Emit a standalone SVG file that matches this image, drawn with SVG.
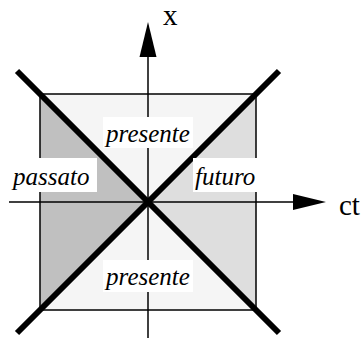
<svg xmlns="http://www.w3.org/2000/svg" width="363" height="338" viewBox="0 0 363 338">
  <style>
    .ax { stroke: #000; stroke-width: 1.5; fill: none; }
    .cone { stroke: #000; stroke-width: 6; stroke-linecap: butt; fill: none; }
    .bg { fill: #fff; }
  </style>
  <rect width="363" height="338" fill="#fff"/>
  <g id="regions">
    <polygon points="40,94 256,94 148,202" fill="#f5f5f5"/>
    <polygon points="40,310 256,310 148,202" fill="#f5f5f5"/>
    <polygon points="40,94 40,310 148,202" fill="#c0c0c0"/>
    <polygon points="256,94 256,310 148,202" fill="#dedede"/>
    <rect x="40" y="94" width="216" height="216" class="ax"/>
  </g>
  <g id="connectors">
    <line x1="148" y1="338" x2="148" y2="56" class="ax"/>
    <polygon points="148,22 139.5,57 156.5,57" fill="#000"/>
    <line x1="9" y1="202" x2="294" y2="202" class="ax"/>
    <polygon points="326,202 293,194 293,210" fill="#000"/>
    <line x1="17" y1="71" x2="279" y2="333" class="cone"/>
    <line x1="279" y1="71" x2="17" y2="333" class="cone"/>
  </g>
  <g id="axis-x">
    <text x="163" y="25" font-family="Liberation Serif, serif" font-size="29">x</text>
  </g>
  <g id="axis-ct">
    <text x="339" y="215" font-family="Liberation Serif, serif" font-size="29">ct</text>
  </g>
  <g id="presente-top">
    <rect x="103" y="117" width="90" height="31" class="bg"/>
    <text x="148" y="142" text-anchor="middle" font-family="Liberation Serif, serif" font-style="italic" font-size="25">presente</text>
  </g>
  <g id="passato">
    <rect x="0" y="158" width="97" height="34" class="bg"/>
    <text x="13" y="185" font-family="Liberation Serif, serif" font-style="italic" font-size="25">passato</text>
  </g>
  <g id="futuro">
    <rect x="193" y="158" width="66" height="34" class="bg"/>
    <text x="195" y="185" font-family="Liberation Serif, serif" font-style="italic" font-size="25">futuro</text>
  </g>
  <g id="presente-bottom">
    <rect x="103" y="260" width="90" height="32" class="bg"/>
    <text x="148" y="285" text-anchor="middle" font-family="Liberation Serif, serif" font-style="italic" font-size="25">presente</text>
  </g>
</svg>
